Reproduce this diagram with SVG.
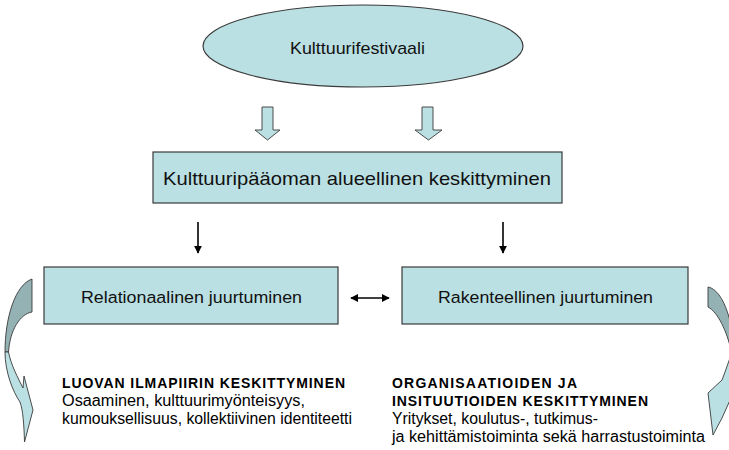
<svg xmlns="http://www.w3.org/2000/svg" width="729" height="450" viewBox="0 0 729 450">
  <defs>
    <style>
      .shape { fill: #BAE0E3; stroke: #3a3a3a; stroke-width: 1.2; }
      .block { fill: #BAE0E3; stroke: #4a4a4a; stroke-width: 1; }
      .back { fill: #94B2B4; stroke: #3a3a3a; stroke-width: 0.9; }
      .front { fill: #BAE0E3; stroke: #3a3a3a; stroke-width: 0.9; }
      .line { stroke: #000; stroke-width: 1.6; fill: none; }
      .label { font-family: "Liberation Sans", Arial, sans-serif; fill: #111; }
      .head { font-family: "Liberation Sans", Arial, sans-serif; font-weight: bold; font-size: 14px; fill: #000; }
      .body { font-family: "Liberation Sans", Arial, sans-serif; font-size: 16px; fill: #000; }
    </style>
    <marker id="tip" viewBox="0 0 10 10" refX="9" refY="5" markerWidth="5" markerHeight="5" orient="auto-start-reverse" markerUnits="strokeWidth">
      <path d="M0,0 L10,5 L0,10 Z" fill="#000"/>
    </marker>
  </defs>

  <rect width="729" height="450" fill="#fff"/>

  <!-- top ellipse -->
  <g id="festival">
    <ellipse class="shape" cx="363" cy="46" rx="160" ry="41"/>
    <text class="label" x="290" y="54" font-size="17" textLength="135" lengthAdjust="spacingAndGlyphs">Kulttuurifestivaali</text>
  </g>

  <!-- central concentration box -->
  <g id="concentration">
    <rect class="shape" x="153" y="152" width="409" height="51"/>
    <text class="label" x="163" y="185" font-size="19" textLength="388" lengthAdjust="spacingAndGlyphs">Kulttuuripääoman alueellinen keskittyminen</text>
  </g>

  <!-- rooting boxes -->
  <g id="relational">
    <rect class="shape" x="44" y="267" width="294" height="57"/>
    <text class="label" x="81" y="303" font-size="16.8" textLength="221" lengthAdjust="spacingAndGlyphs">Relationaalinen juurtuminen</text>
  </g>
  <g id="structural">
    <rect class="shape" x="402" y="267" width="286" height="57"/>
    <text class="label" x="438" y="303" font-size="16.8" textLength="215" lengthAdjust="spacingAndGlyphs">Rakenteellinen juurtuminen</text>
  </g>

  <!-- descriptive text blocks -->
  <g id="creative-climate">
    <text class="head" x="62" y="388" textLength="283" lengthAdjust="spacing">LUOVAN ILMAPIIRIN KESKITTYMINEN</text>
    <text class="body" x="62" y="406" textLength="243" lengthAdjust="spacingAndGlyphs">Osaaminen, kulttuurimyönteisyys,</text>
    <text class="body" x="62" y="424" textLength="290" lengthAdjust="spacingAndGlyphs">kumouksellisuus, kollektiivinen identiteetti</text>
  </g>
  <g id="organisations">
    <text class="head" x="392" y="388" textLength="185" lengthAdjust="spacing">ORGANISAATIOIDEN JA</text>
    <text class="head" x="392" y="406" textLength="256" lengthAdjust="spacing">INSITUUTIOIDEN KESKITTYMINEN</text>
    <text class="body" x="392" y="424" textLength="206" lengthAdjust="spacingAndGlyphs">Yritykset, koulutus-, tutkimus-</text>
    <text class="body" x="392" y="442" textLength="313" lengthAdjust="spacingAndGlyphs">ja kehittämistoiminta sekä harrastustoiminta</text>
  </g>

  <!-- connectors -->
  <g id="connectors">
    <!-- block arrows from festival -->
    <path class="block" d="M262,107 H273 V130 H280 L267.5,140 L255,130 H262 Z"/>
    <path class="block" d="M422,107 H433 V130 H442 L428.5,140 L415,130 H422 Z"/>
    <!-- thin arrows to rooting boxes -->
    <line class="line" x1="198" y1="222" x2="198" y2="253" marker-end="url(#tip)"/>
    <line class="line" x1="503" y1="222" x2="503" y2="253" marker-end="url(#tip)"/>
    <!-- two-way link -->
    <line class="line" x1="351" y1="298" x2="389" y2="298" marker-start="url(#tip)" marker-end="url(#tip)"/>
  </g>

  <!-- curved side arrows -->
  <g id="left-loop">
    <path class="back" d="M32,279 L32,312 C20,314 10,330 8.5,352 L5,352 C5,318 15,285 32,279 Z"/>
    <path class="front" d="M5,352 C5,372 13,392 20,402 C23,410 24,425 24.5,442 L33,410 L24,376 L23,388 C18,378 11,365 8.5,352 Z"/>
  </g>
  <g id="right-loop">
    <path class="back" d="M708,287 C718,289 726,303 731,325 L731,350 C727,332 718,312 708,307 Z"/>
    <path class="front" d="M731,355 L725,372 L722,380 L708,393 L713,435 L722,418 L731,398 Z"/>
  </g>
</svg>
